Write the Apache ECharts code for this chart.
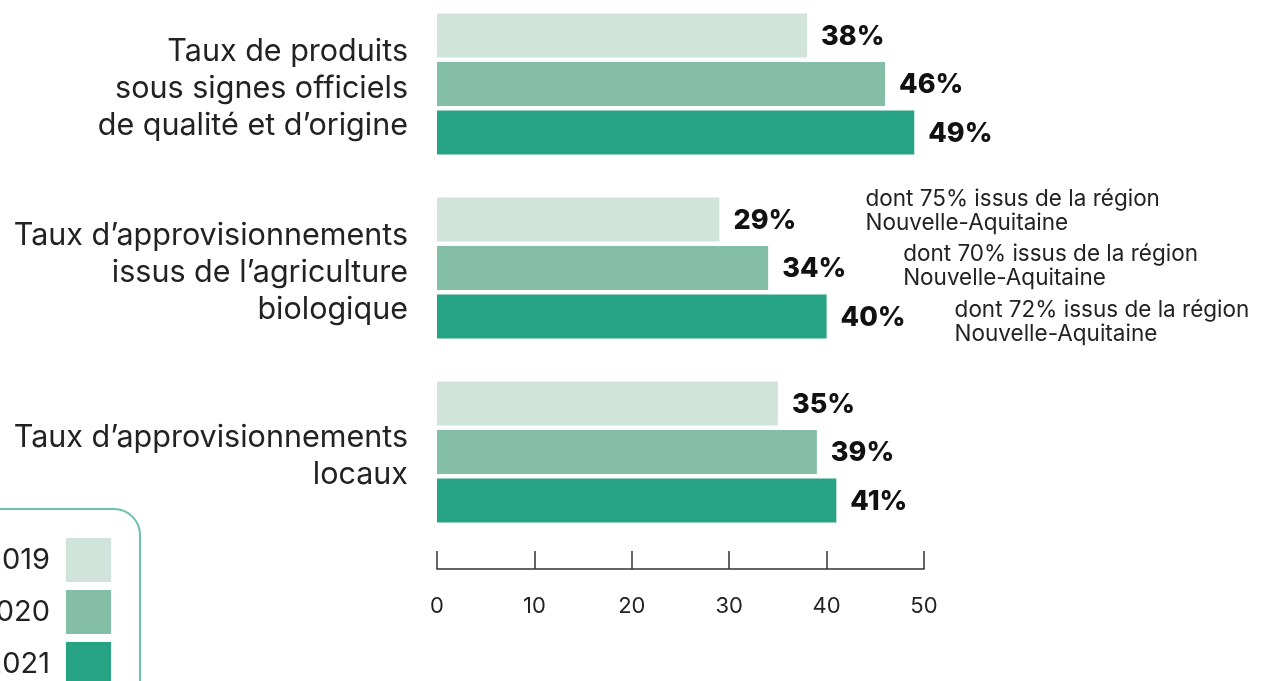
<!DOCTYPE html>
<html>
<head>
<meta charset="utf-8">
<script src="https://cdn.jsdelivr.net/npm/echarts@6/dist/echarts.min.js"></script>
<style>
  html, body { margin: 0; padding: 0; background: #fff; }
  #chart { width: 1265px; height: 681px; }
</style>
</head>
<body>
<div id="chart"></div>
<script>
// Indicator labels (y axis, top to bottom)
const categories = [
  'Taux de produits\nsous signes officiels\nde qualité et d’origine',
  'Taux d’approvisionnements\nissus de l’agriculture\nbiologique',
  'Taux d’approvisionnements\nlocaux'
];
const years = ['2019', '2020', '2021'];
// Percentages per year, one entry per indicator
const values2019 = [38, 29, 35];
const values2020 = [46, 34, 39];
const values2021 = [49, 40, 41];
// Share of organic supplies coming from the region, per year
const regionNotes = [
  'dont 75% issus de la région\nNouvelle-Aquitaine',
  'dont 70% issus de la région\nNouvelle-Aquitaine',
  'dont 72% issus de la région\nNouvelle-Aquitaine'
];
const xTicks = [0, 10, 20, 30, 40, 50];

const colors = ['#d0e4dc', '#84bea7', '#26a382'];
const FONT = 'Inter, "Noto Sans", sans-serif';
const BAR_W = 44;
const BAR_GAP = 0.1;
const BIO = 1; // index of the organic-farming indicator

// pixel placement of each note relative to the end of its bar
const noteDx = [146, 135, 128];
const noteDy = [-8, -2, 6];

const yearValues = [values2019, values2020, values2021];

const barSeries = years.map((y, i) => ({
  name: y,
  type: 'bar',
  data: yearValues[i],
  barWidth: BAR_W,
  barGap: (BAR_GAP * 100) + '%',
  itemStyle: { color: colors[i] },
  label: {
    show: true,
    position: 'right',
    distance: 14,
    offset: [0, 1],
    formatter: p => p.value + '%',
    fontFamily: FONT,
    fontWeight: 800,
    fontSize: 27,
    color: '#111'
  }
}));

const noteSeries = {
  type: 'custom',
  name: 'notes',
  coordinateSystem: 'cartesian2d',
  encode: { x: 0, y: 1 },
  data: regionNotes.map((t, i) => [yearValues[i][BIO], BIO, i]),
  z: 5,
  silent: true,
  renderItem: (params, api) => {
    const i = api.value(2);
    const pt = api.coord([api.value(0), api.value(1)]);
    const step = BAR_W * (1 + BAR_GAP);
    const yc = pt[1] + (i - 1) * step;
    return {
      type: 'text',
      x: pt[0] + noteDx[i],
      y: yc + noteDy[i],
      style: {
        text: regionNotes[i],
        fontFamily: FONT,
        fontSize: 22.5,
        lineHeight: 24,
        fill: '#222',
        align: 'left',
        verticalAlign: 'middle'
      }
    };
  }
};

const chart = echarts.init(document.getElementById('chart'));
chart.setOption({
  animation: false,
  backgroundColor: '#fff',
  grid: { left: 437, right: 341, top: -8, bottom: 137, containLabel: false, outerBoundsMode: 'none' },
  legend: {
    data: years,
    orient: 'vertical',
    right: 1125,
    top: 509,
    height: 152,
    align: 'right',
    itemWidth: 45,
    itemHeight: 44,
    itemGap: 8,
    padding: 29,
    borderColor: '#6dc1a9',
    borderWidth: 2,
    borderRadius: 26,
    icon: 'rect',
    textStyle: { fontFamily: FONT, fontSize: 29, color: '#222', padding: [4, 11, 0, 0] }
  },
  xAxis: {
    type: 'value',
    min: xTicks[0],
    max: xTicks[xTicks.length - 1],
    interval: xTicks[1] - xTicks[0],
    position: 'bottom',
    offset: 25,
    splitLine: { show: false },
    axisLine: { show: true, lineStyle: { color: '#333', width: 1.5 } },
    axisTick: { show: true, inside: true, length: 18, lineStyle: { color: '#333', width: 1.5 } },
    axisLabel: { margin: 26, fontFamily: FONT, fontSize: 22, color: '#222' }
  },
  yAxis: {
    type: 'category',
    data: categories,
    inverse: true,
    axisLine: { show: false },
    axisTick: { show: false },
    axisLabel: {
      margin: 29,
      align: 'right',
      // a thin empty first line nudges the text block slightly downward
      formatter: v => '{s|}\n' + v.split('\n').map(l => '{t|' + l + '}').join('\n'),
      rich: {
        s: { height: 9, lineHeight: 9, fontSize: 9 },
        t: { fontFamily: FONT, fontSize: 30.5, lineHeight: 37, color: '#222', align: 'right' }
      }
    }
  },
  series: [...barSeries, noteSeries]
});
</script>
</body>
</html>
